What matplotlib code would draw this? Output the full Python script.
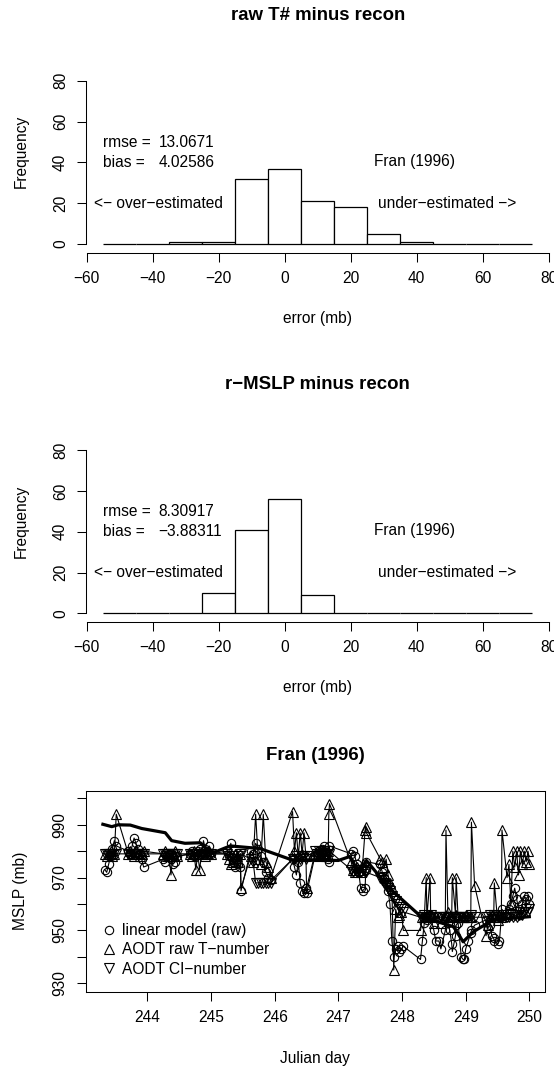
import matplotlib
matplotlib.use("Agg")
import matplotlib.pyplot as plt
from matplotlib.lines import Line2D

plt.rcParams['font.family'] = ['Liberation Sans', 'DejaVu Sans']

W, H = 554, 1068
FS = 11.2      # ~15.5 px
TFS = 13.4     # title

# ---- histogram data ----
bin_left = [-55, -45, -35, -25, -15, -5, 5, 15, 25, 35, 45, 55, 65]
raw_counts = [0, 0, 1, 1, 32, 37, 21, 18, 5, 1, 0, 0, 0]
rmslp_counts = [0, 0, 0, 10, 41, 56, 9, 0, 0, 0, 0, 0, 0]
raw_stats = ["13.0671", "4.02586"]
rmslp_stats = ["8.30917", "\u22123.88311"]

# ---- time series (Fran 1996) ----
day = [
    243.33, 243.36, 243.39, 243.42, 243.45, 243.48, 243.51,
    243.70, 243.73, 243.76, 243.79, 243.82, 243.85, 243.88, 243.91, 243.94,
    244.25, 244.28, 244.31, 244.34, 244.37, 244.40, 244.43, 244.46,
    244.67, 244.70, 244.73, 244.76, 244.79, 244.82, 244.85, 244.88, 244.91, 244.94, 244.97, 245.00,
    245.25, 245.28, 245.31, 245.34, 245.37, 245.40, 245.43, 245.46, 245.47,
    245.62, 245.66, 245.70, 245.74, 245.78, 245.82, 245.86, 245.90, 245.94,
    246.28, 246.31, 246.34, 246.37, 246.40, 246.43, 246.46, 246.49, 246.50,
    246.63, 246.66, 246.69, 246.72, 246.75, 246.78, 246.81, 246.84, 246.85, 246.86,
    247.20, 247.23, 247.26, 247.29, 247.32, 247.35, 247.38, 247.42, 247.43, 247.44,
    247.66, 247.69, 247.72, 247.75, 247.78, 247.81, 247.84, 247.87, 247.90, 247.93, 247.96, 247.99, 248.02,
    248.29, 248.32, 248.35, 248.38, 248.39, 248.44, 248.45, 248.50, 248.53,
    248.58, 248.61, 248.68, 248.69, 248.72, 248.75, 248.78, 248.79, 248.84, 248.85, 248.88,
    248.93, 248.96, 248.98, 249.00, 249.04, 249.08, 249.09, 249.14,
    249.32, 249.35, 249.38, 249.41, 249.44, 249.45, 249.50, 249.53, 249.56, 249.57,
    249.65, 249.68, 249.71, 249.74, 249.77, 249.80, 249.83, 249.86, 249.89, 249.92, 249.95, 249.98, 250.00,
]
lm_mslp = [
    973, 972, 975, 978, 981, 984, 982,
    980, 979, 982, 985, 983, 981, 979, 977, 974,
    977, 976, 978, 979, 977, 975, 976, 978,
    979, 980, 978, 979, 980, 981, 979, 984, 981, 980, 982, 979,
    980, 978, 983, 976, 974, 977, 975, 974, 965,
    980, 979, 983, 981, 978, 976, 972, 970, 969,
    977, 974, 971, 976, 968, 965, 964, 966, 964,
    978, 979, 980, 979, 981, 982, 979, 977, 976, 982,
    979, 980, 978, 975, 972, 966, 965, 966, 973, 976,
    975, 972, 970, 968, 965, 960, 946, 940, 943, 944, 942, 943, 944,
    939, 946, 953, 955, 954, 956, 955, 950, 946,
    946, 943, 950, 955, 953, 950, 945, 942, 948, 952, 953,
    940, 939, 939, 943, 946, 949, 950, 952,
    954, 951, 952, 948, 947, 946, 945, 946, 955, 958,
    955, 958, 960, 963, 966, 962, 958, 956, 960, 963, 962, 963, 960,
]
tnum_mslp = [
    979, 978, 979, 980, 978, 979, 994,
    979, 980, 979, 978, 980, 979, 978, 979, 980,
    979, 980, 978, 979, 971, 979, 980, 978,
    979, 978, 980, 973, 979, 973, 979, 980, 978, 979, 980, 979,
    979, 977, 975, 976, 979, 978, 976, 979, 966,
    978, 976, 994, 977, 975, 994, 976, 974, 970,
    995, 980, 987, 978, 987, 979, 987, 978, 966,
    979, 980, 978, 979, 980, 979, 978, 980, 994, 998,
    976, 973, 972, 974, 973, 972, 975, 988, 989, 987,
    977, 976, 974, 977, 971, 968, 966, 935, 958, 955, 956, 957, 950,
    950, 955, 955, 970, 955, 970, 956, 953, 955,
    955, 953, 955, 988, 957, 955, 955, 970, 956, 970, 955,
    955, 955, 955, 956, 955, 955, 991, 967,
    948, 952, 955, 956, 955, 968, 954, 956, 955, 988,
    970, 975, 960, 980, 974, 980, 971, 980, 975, 980, 976, 980, 975,
]
ci_mslp = [
    979, 979, 979, 979, 979, 979, 979,
    979, 979, 979, 979, 979, 979, 979, 979, 979,
    979, 979, 979, 979, 979, 979, 979, 979,
    979, 979, 979, 979, 979, 979, 979, 979, 979, 979, 979, 979,
    979, 978, 977, 977, 976, 976, 978, 979, 979,
    977, 976, 968, 968, 968, 968, 968, 968, 968,
    977, 977, 978, 978, 977, 978, 978, 977, 978,
    980, 979, 980, 979, 979, 980, 979, 980, 979, 980,
    973, 972, 973, 972, 973, 972, 973, 972, 973, 972,
    970, 969, 968, 967, 966, 965, 963, 962, 961, 960, 959, 958, 957,
    955, 955, 956, 955, 955, 955, 956, 955, 955,
    955, 955, 955, 955, 955, 955, 955, 955, 955, 955, 955,
    955, 955, 955, 955, 955, 956, 955, 955,
    955, 955, 956, 955, 955, 956, 955, 955, 956, 955,
    955, 955, 956, 955, 956, 955, 956, 957, 956, 957, 958, 957, 958,
]
rec_day = [243.30, 243.44, 243.54, 243.73, 243.91, 244.28, 244.38, 244.59, 244.83,
           245.01, 245.30, 245.77, 246.27, 247.00, 247.18, 247.32, 247.44, 247.80,
           248.30, 248.81, 248.96, 249.12, 249.43, 250.00]
rec_mslp = [990.2, 989.3, 990.0, 989.9, 988.6, 987.0, 984.0, 983.0, 983.2,
            979.2, 982.0, 981.0, 976.7, 976.5, 978.0, 972.0, 976.5, 966.0,
            955.2, 951.4, 945.7, 949.5, 954.0, 955.2]

fig = plt.figure(figsize=(W / 100, H / 100), dpi=100)


def box(l, t, r, b):
    return [l / W, 1 - b / H, (r - l) / W, (b - t) / H]


def ftext(x, y, s, **kw):
    fig.text(x / W, 1 - y / H, s, ha='center', va='center', **kw)


def ticks(ax):
    ax.tick_params(direction='out', length=6.5, width=0.75, pad=6.5,
                   labelsize=FS, color='black')
    for t in ax.get_yticklabels():
        t.set_rotation(90)
        t.set_va('center')


def hist_panel(top, counts, stats, title):
    ax = fig.add_axes(box(86, top, 549.4, top + 202.6))
    ax.bar(bin_left, counts, width=10, align='edge', facecolor='white',
           edgecolor='black', linewidth=0.9)
    ax.set_xlim(-60.2, 80.2)
    ax.set_ylim(-4.4, 94.9)
    ax.set_xticks(range(-60, 81, 20))
    ax.set_yticks(range(0, 81, 20))
    ax.set_xticklabels(['\u221260', '\u221240', '\u221220', '0', '20', '40', '60', '80'])
    for s in ['top', 'right']:
        ax.spines[s].set_visible(False)
    ax.spines['left'].set_bounds(0, 80)
    ax.spines['bottom'].set_bounds(-60, 80)
    for s in ['left', 'bottom']:
        ax.spines[s].set_linewidth(0.75)
    ticks(ax)
    ax.text(-55, 50, "rmse =", fontsize=FS, ha='left', va='center')
    ax.text(-38.2, 50, stats[0], fontsize=FS, ha='left', va='center')
    ax.text(-55, 40, "bias =", fontsize=FS, ha='left', va='center')
    ax.text(-38.2, 40, stats[1], fontsize=FS, ha='left', va='center')
    ax.text(39.4, 40.5, "Fran (1996)", fontsize=FS, ha='center', va='center')
    ax.text(-38.2, 19.8, "<\u2212 over\u2212estimated", fontsize=FS, ha='center', va='center')
    ax.text(49.3, 19.8, "under\u2212estimated \u2212>", fontsize=FS, ha='center', va='center')
    ftext(317.7, top - 35.4, title, fontsize=TFS, fontweight='bold')
    ftext(317.7, top + 267.6, "error (mb)", fontsize=FS)
    ftext(21, top + 101.3, "Frequency", fontsize=FS, rotation=90)
    return ax


hist_panel(50.4, raw_counts, raw_stats, "raw T# minus recon")
hist_panel(419.7, rmslp_counts, rmslp_stats, "r\u2212MSLP minus recon")

# ---- time series panel ----
MS_C, MS_T = 6.0, 6.8
ax = fig.add_axes(box(85.7, 791, 545, 991.7))
mk = dict(color='black', linewidth=0.8, markerfacecolor='none',
          markeredgecolor='black', markeredgewidth=0.8)
ax.plot(day, lm_mslp, marker='o', markersize=MS_C, **mk)
ax.plot(day, tnum_mslp, marker='^', markersize=MS_T, **mk)
ax.plot(day, ci_mslp, marker='v', markersize=MS_T, **mk)
ax.plot(rec_day, rec_mslp, color='black', linewidth=2.3, solid_joinstyle='round')
ax.set_xlim(243.03, 250.246)
ax.set_ylim(926.8, 1002.8)
ax.set_xticks(range(244, 251))
ax.set_yticks(range(930, 1001, 10))
ax.set_yticklabels(['930', '', '950', '', '970', '', '990', ''])
for s in ax.spines.values():
    s.set_linewidth(0.75)
ticks(ax)

handles = [
    Line2D([], [], marker=m, ls='none', markersize=s, markerfacecolor='none',
           markeredgecolor='black', markeredgewidth=0.8)
    for m, s in [('o', MS_C), ('^', MS_T), ('v', MS_T)]
]
ax.legend(handles, ["linear model (raw)", "AODT raw T\u2212number", "AODT CI\u2212number"],
          loc='upper left', bbox_to_anchor=(102.6 / W, 1 - 923.0 / H),
          bbox_transform=fig.transFigure, frameon=False, fontsize=FS,
          borderpad=0, borderaxespad=0, handlelength=0.8, handletextpad=0.45,
          labelspacing=0.28)

ftext(315.4, 755, "Fran (1996)", fontsize=TFS, fontweight='bold')
ftext(315.4, 1058, "Julian day", fontsize=FS)
ftext(21, 891.3, "MSLP (mb)", fontsize=FS, rotation=90)

fig.savefig("out.png", dpi=100)
